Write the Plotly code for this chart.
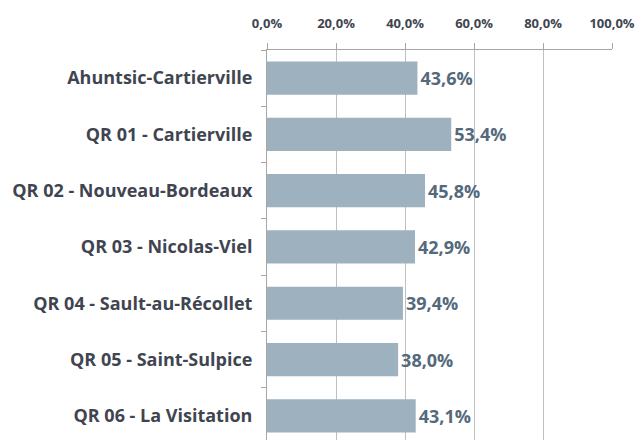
import plotly.graph_objects as go

categories = [
    "Ahuntsic-Cartierville",
    "QR 01 - Cartierville",
    "QR 02 - Nouveau-Bordeaux",
    "QR 03 - Nicolas-Viel",
    "QR 04 - Sault-au-Récollet",
    "QR 05 - Saint-Sulpice",
    "QR 06 - La Visitation",
]
values = [43.6, 53.4, 45.8, 42.9, 39.4, 38.0, 43.1]
x_ticks = [0, 20, 40, 60, 80, 100]

labels = [f"{v:.1f}%".replace(".", ",") for v in values]
tick_labels = [f"{t:.1f}%".replace(".", ",") for t in x_ticks]

FONT = "Open Sans"

fig = go.Figure(
    go.Bar(
        x=values,
        y=categories,
        orientation="h",
        marker=dict(color="#9DB1BF", line=dict(width=0)),
        width=0.59,
        text=labels,
        textposition="outside",
        cliponaxis=False,
        hoverinfo="skip",
        textfont=dict(family=FONT, size=18, color="#54697B", weight="bold"),
    )
)

fig.update_layout(
    width=640,
    height=440,
    margin=dict(l=267, r=28, t=50, b=0),
    paper_bgcolor="white",
    plot_bgcolor="white",
    showlegend=False,
    font=dict(family=FONT, color="#3F4550"),
)

fig.update_xaxes(
    side="top",
    range=[0, 100],
    tickvals=x_ticks,
    ticktext=tick_labels,
    showgrid=True,
    gridcolor="#BFBFBF",
    gridwidth=1,
    showline=True,
    linecolor="#A6A6A6",
    ticks="outside",
    ticklen=6,
    tickcolor="#A6A6A6",
    ticklabelstandoff=10,
    ticklabeloverflow="allow",
    tickfont=dict(family=FONT, size=13, color="#3F4550", weight="bold"),
    zeroline=False,
    automargin=False,
    fixedrange=True,
)

fig.update_yaxes(
    type="category",
    categoryorder="array",
    categoryarray=categories,
    range=[6.43, -0.5],
    showline=True,
    linecolor="#A6A6A6",
    ticks="outside",
    tickson="boundaries",
    ticklen=5,
    tickcolor="#A6A6A6",
    showgrid=False,
    automargin=False,
    fixedrange=True,
    ticklabelstandoff=10,
    tickfont=dict(family=FONT, size=18, color="#3F4550", weight="bold"),
)

fig.write_html(
    "out.html",
    config={"displayModeBar": False},
    post_script="document.body.style.margin='0';document.body.style.overflow='hidden';",
)
